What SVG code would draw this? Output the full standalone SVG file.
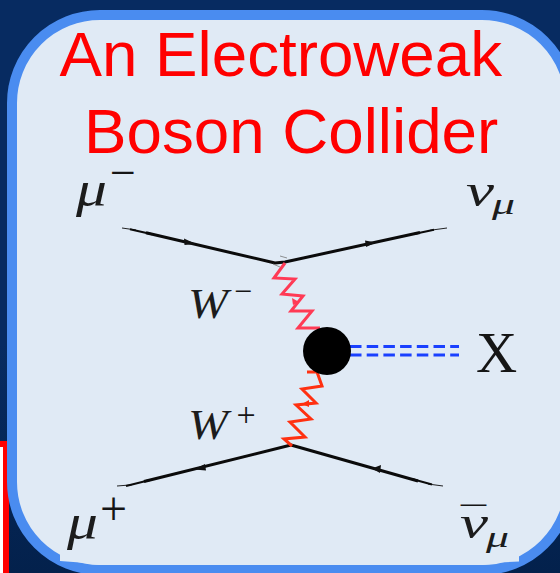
<svg xmlns="http://www.w3.org/2000/svg" width="560" height="573" viewBox="0 0 560 573">
<style>
.title{font-family:"Liberation Sans",Arial,sans-serif;font-size:63.700px;fill:#ff0000}
.m{font-family:"Liberation Serif","DejaVu Serif",serif;font-style:italic;fill:#1c1c1c}
.r{font-family:"Liberation Serif","DejaVu Serif",serif;fill:#151515}
.f{fill:none;stroke:#0b0b0b;stroke-width:3;stroke-linejoin:round}
.g{fill:none;stroke:#0b0b0b;stroke-width:1.900}
.t{fill:none;stroke:#0b0b0b;stroke-width:0.900}
.z{fill:none;stroke-width:3;stroke-linejoin:miter}
.d{fill:none;stroke:#1a40ff;stroke-width:3;stroke-dasharray:11.500 5.200}
.a{fill:#111}
</style>
<defs>
<linearGradient id="bg" x1="0" y1="0" x2="0" y2="1"><stop offset="0" stop-color="#072b61"/><stop offset="0.6" stop-color="#072b61"/><stop offset="1" stop-color="#03214c"/></linearGradient>
</defs>
<rect width="560" height="573" fill="url(#bg)"/>
<rect x="0" y="441" width="9" height="132" fill="#ff0000"/>
<rect x="0" y="447" width="3" height="126" fill="#ffffff"/>
<g id="panel">
<rect x="12" y="15" width="558" height="555" rx="88" ry="88" fill="#e0eaf5" stroke="#4a8cf0" stroke-width="10"/>
<path d="M60 552 L60 561 L80 562.500 L100 565 L112 565 L112 540 Z" fill="#e0eaf5"/>
<path d="M519 555 L519 561.500 L500 562.500 L482 565 L470 565 L470 540 Z" fill="#e0eaf5"/>
</g>
<g id="title">
<text class="title" x="59.500" y="76">An Electroweak</text>
<text class="title" x="84" y="153">Boson Collider</text>
</g>
<g id="connectors">
<path class="t" d="M122 228 L136 230"/>
<path class="g" d="M130 229.300 L152 234.200"/>
<path class="f" d="M146 232.800 L275 263 L285 262 L420 232.500"/>
<path class="g" d="M414 234 L434 229.800"/>
<path class="t" d="M430 230.300 L447 228"/>
<path class="t" d="M117 486 L132 484.800"/>
<path class="g" d="M126 486 L150 480"/>
<path class="f" d="M144 481.500 L291 445 L418 481"/>
<path class="g" d="M412 479 L432 484.500"/>
<path class="t" d="M428 484 L443 486"/>
<path class="a" d="M196 244 L184 238.500 L184.500 245 Z"/>
<path class="a" d="M376 242.500 L365 240.500 L366 247 Z"/>
<path class="a" d="M194 469.500 L205 464 L206 470.500 Z"/>
<path class="a" d="M372 468.500 L381 465 L380 473 Z"/>
<path d="M280 256 L287 258 M273 264 L280 267" fill="none" stroke="#777" stroke-width="0.800"/>
<path class="z" stroke="#ff3a55" d="M285 263 L274 278 L295 279 L282 294 L303 296 L291 311 L312 311 L298 328 L320 328"/>
<path class="z" stroke="#ff3010" d="M307 372 L317 372 L322 386 L302 389 L316 403 L296 405 L311 419 L290 422 L305 437 L284 439 L292 446"/>
<path d="M299 302 L292 298 L293 305 Z" fill="#ff3a55"/>
<path d="M302 404 L309 400 L309 407 Z" fill="#ff3010"/>
<path class="d" d="M350 346.500 H459"/>
<path class="d" d="M350 355 H459"/>
</g>
<g id="vertex"><circle cx="327" cy="351" r="24" fill="#000"/></g>
<g id="label-mu-minus">
<text class="m" x="76" y="206" font-size="50" textLength="31" lengthAdjust="spacingAndGlyphs">μ</text>
<text class="r" x="110" y="188" font-size="46">−</text>
</g>
<g id="label-nu-mu">
<text class="m" x="466" y="206" font-size="46" textLength="28" lengthAdjust="spacingAndGlyphs">ν</text>
<text class="m" x="492" y="214" font-size="30" textLength="23" lengthAdjust="spacingAndGlyphs">μ</text>
</g>
<g id="label-w-minus">
<text class="m" x="188" y="318" font-size="43" textLength="40" lengthAdjust="spacingAndGlyphs">W</text>
<text class="r" x="234" y="302" font-size="32">−</text>
</g>
<g id="label-w-plus">
<text class="m" x="188" y="439" font-size="43" textLength="40" lengthAdjust="spacingAndGlyphs">W</text>
<text class="r" x="236.500" y="426" font-size="34">+</text>
</g>
<g id="label-x"><text class="r" x="476" y="372" font-size="57">X</text></g>
<g id="label-mu-plus">
<text class="m" x="67" y="539" font-size="50" textLength="31" lengthAdjust="spacingAndGlyphs">μ</text>
<text class="r" x="100" y="525" font-size="48">+</text>
</g>
<g id="label-nu-bar-mu">
<text class="m" x="460" y="538" font-size="46" textLength="28" lengthAdjust="spacingAndGlyphs">ν</text>
<text class="r" x="461" y="530" font-size="34" textLength="25" lengthAdjust="spacingAndGlyphs">¯</text>
<text class="m" x="486" y="547" font-size="30" textLength="23" lengthAdjust="spacingAndGlyphs">μ</text>
</g>
</svg>
